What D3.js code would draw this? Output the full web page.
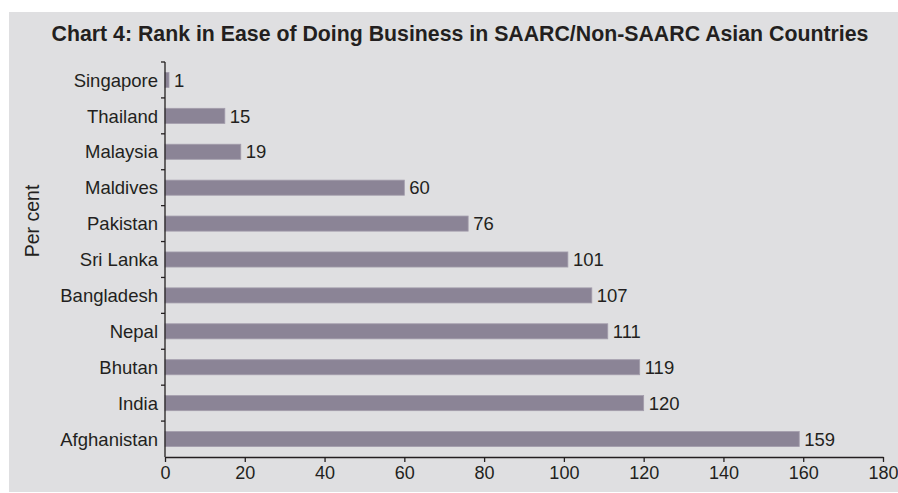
<!DOCTYPE html>
<html>
<head>
<meta charset="utf-8">
<script src="https://cdn.jsdelivr.net/npm/d3@7"></script>
<style>
  html, body { margin: 0; padding: 0; background: #ffffff; }
  svg { display: block; }
  text { font-family: "Liberation Sans", Arial, Helvetica, sans-serif; fill: #231f20; }
</style>
</head>
<body>
<svg id="chart" width="898" height="493"></svg>
<script>
// Countries, top to bottom
const countries = ["Singapore", "Thailand", "Malaysia", "Maldives", "Pakistan", "Sri Lanka",
  "Bangladesh", "Nepal", "Bhutan", "India", "Afghanistan"];
// Ease of Doing Business rank
const ranks = [1, 15, 19, 60, 76, 101, 107, 111, 119, 120, 159];
// X-axis ticks
const xTicks = [0, 20, 40, 60, 80, 100, 120, 140, 160, 180];

const titleText = "Chart 4: Rank in Ease of Doing Business in SAARC/Non-SAARC Asian Countries";
const yTitle = "Per cent";

const W = 898, H = 493;
const margin = { top: 62, right: 15, bottom: 36, left: 165 };
const svg = d3.select("#chart");

// panel background
svg.append("rect")
  .attr("x", 9).attr("y", 12)
  .attr("width", W - 9).attr("height", H - 13)
  .attr("fill", "#dfdfe1");

// title
svg.append("text")
  .attr("x", 460).attr("y", 41)
  .attr("text-anchor", "middle")
  .style("font-weight", "bold")
  .style("font-size", "21.3px")
  .text(titleText);

const x = d3.scaleLinear().domain([0, 180]).range([margin.left, 883]);
const y = d3.scaleBand().domain(countries).range([margin.top, 457]).paddingInner(0.58).paddingOuter(0.29);

const data = countries.map((c, i) => ({ country: c, rank: ranks[i] }));

// bars
svg.append("g").selectAll("rect").data(data).join("rect")
  .attr("x", x(0))
  .attr("y", d => y(d.country))
  .attr("width", d => x(d.rank) - x(0))
  .attr("height", y.bandwidth())
  .attr("fill", "#8b8496")
  .attr("stroke", "#a39dac")
  .attr("stroke-width", 0.8);

// value labels
svg.append("g").selectAll("text").data(data).join("text")
  .attr("x", d => x(d.rank) + 5)
  .attr("y", d => y(d.country) + y.bandwidth() / 2)
  .attr("dy", "0.36em")
  .style("font-size", "18.5px")
  .text(d => d.rank);

// x axis
const xAxis = svg.append("g")
  .attr("transform", `translate(0,457)`)
  .call(d3.axisBottom(x).tickValues(xTicks).tickSize(5).tickSizeOuter(0).tickPadding(4));
xAxis.select(".domain").attr("stroke", "#231f20").attr("stroke-width", 1.3);
xAxis.selectAll(".tick line").attr("stroke", "#231f20").attr("stroke-width", 1.3);
xAxis.selectAll("text").style("font-size", "18px").attr("fill", "#231f20")
  .style("font-family", "'Liberation Sans', Arial, sans-serif");

// y axis: line with tick marks between bands
const yAxisG = svg.append("g");
yAxisG.append("line")
  .attr("x1", x(0)).attr("x2", x(0))
  .attr("y1", margin.top).attr("y2", 457)
  .attr("stroke", "#231f20").attr("stroke-width", 1.3);
const gap = (y.step() - y.bandwidth()) / 2;
const bounds = countries.map(c => y(c) - gap);
yAxisG.selectAll("line.tk").data(bounds).join("line")
  .attr("class", "tk")
  .attr("x1", x(0) - 4).attr("x2", x(0))
  .attr("y1", d => d).attr("y2", d => d)
  .attr("stroke", "#231f20").attr("stroke-width", 1.3);

// category labels
yAxisG.selectAll("text").data(countries).join("text")
  .attr("x", x(0) - 7)
  .attr("y", d => y(d) + y.bandwidth() / 2)
  .attr("dy", "0.36em")
  .attr("text-anchor", "end")
  .style("font-size", "18.5px")
  .text(d => d);

// y axis title
svg.append("text")
  .attr("transform", "translate(39,221) rotate(-90)")
  .attr("text-anchor", "middle")
  .style("font-size", "19.5px")
  .text(yTitle);
</script>
</body>
</html>
